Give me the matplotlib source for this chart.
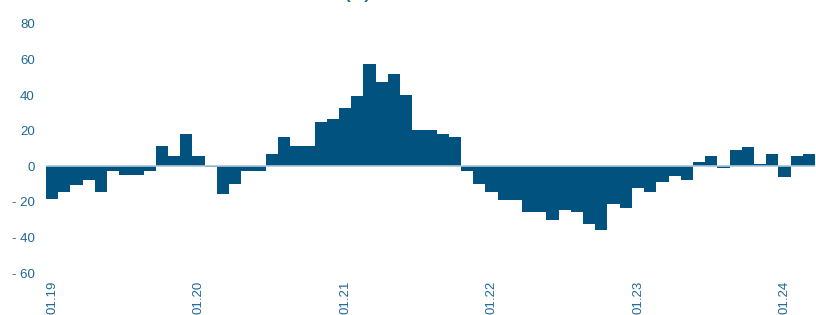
import matplotlib.pyplot as plt
import numpy as np


# monthly values, Jan 2019 .. Mar 2024
values = [
    -18.5, -14.2, -10.7, -7.5, -14.2, -2.8, -5.0, -5.0, -2.8, 11.6, 6.0, 18.4,
    6.0, -0.5, -15.4, -9.7, -2.8, -2.8, 7.1, 16.3, 11.6, 11.6, 25.1, 26.4,
    33.0, 39.7, 57.7, 47.6, 52.0, 40.0, 20.6, 20.6, 18.3, 16.3, -2.8, -9.7,
    -14.2, -18.7, -18.7, -25.5, -25.5, -30.0, -24.4, -25.5, -32.2, -35.6, -21.0, -23.2,
    -12.0, -14.2, -8.6, -5.2, -7.5, 2.6, 6.0, -0.7, 9.4, 10.7, 1.5, 7.1,
    -6.2, 6.0, 7.1,
]
tick_labels = ["01.19", "01.20", "01.21", "01.22", "01.23", "01.24"]
y_ticks = [-60, -40, -20, 0, 20, 40, 60, 80]

BAR_COLOR = "#02527f"
TEXT_COLOR = "#1f6898"
ZERO_COLOR = "#a9c6d8"

plt.rcParams['font.family'] = ['Liberation Sans', 'DejaVu Sans']

fig = plt.figure(figsize=(8.16, 3.15), dpi=100)
ax = fig.add_axes([46 / 816, 42 / 315, 769 / 816, 249 / 315])

x = np.arange(len(values))
ax.bar(x, values, width=1.0, color=BAR_COLOR, linewidth=0)
ax.axhline(0, color=ZERO_COLOR, linewidth=1.2, zorder=3)

ax.set_xlim(-0.5, len(values) - 0.5)
ax.set_ylim(-60, 80)
ax.set_yticks(y_ticks)
ax.set_yticklabels([f"- {abs(v)}" if v < 0 else str(v) for v in y_ticks])
ax.set_xticks(np.arange(len(tick_labels)) * 12)
ax.set_xticklabels(tick_labels, rotation=90)

ax.tick_params(axis='both', length=0, colors=TEXT_COLOR, labelsize=9.5)
ax.tick_params(axis='y', pad=8)
ax.tick_params(axis='x', pad=5.5)
for s in ax.spines.values():
    s.set_visible(False)

# title sits mostly above the visible area
fig.text(0.438, 1.0 + 1 / 315, "(%)", color=TEXT_COLOR, fontsize=12, fontweight='bold',
         ha='center', va='baseline')

fig.savefig("out.png", dpi=100)
